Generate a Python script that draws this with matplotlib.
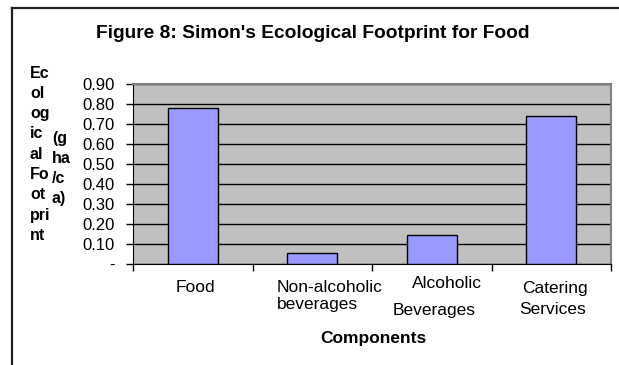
import matplotlib.pyplot as plt
from matplotlib.lines import Line2D

plt.rcParams['font.family'] = ['Liberation Sans', 'DejaVu Sans']

# data
components = ['Food', 'Non-alcoholic\nbeverages', 'Alcoholic\nBeverages', 'Catering\nServices']
footprint = [0.78, 0.055, 0.143, 0.74]
yticks = [0.0, 0.1, 0.2, 0.3, 0.4, 0.5, 0.6, 0.7, 0.8, 0.9]
ytick_labels = ['-', '0.10', '0.20', '0.30', '0.40', '0.50', '0.60', '0.70', '0.80', '0.90']
ylabel_main = ['Ec', 'ol', 'og', 'ic', 'al', 'Fo', 'ot', 'pri', 'nt']
ylabel_unit = ['(g', 'ha', '/c', 'a)']

W, H = 619, 365
fig = plt.figure(figsize=(W / 100, H / 100), dpi=100)

def fx(px):
    return px / W

def fy(py):
    return 1 - py / H

# frame around the chart area
fig.add_artist(Line2D([fx(12), 1.0], [fy(8), fy(8)], color='#202020', lw=1.6))
fig.add_artist(Line2D([fx(12), fx(12)], [fy(8), 0.0], color='#202020', lw=1.6))

ax = fig.add_axes([fx(133), fy(264), fx(611) - fx(133), fy(84) - fy(264)])
ax.set_facecolor('#C0C0C0')

x = list(range(len(components)))
ax.bar(x, footprint, width=0.42, color='#9999FF', edgecolor='black', linewidth=1.0, zorder=3)

ax.set_xlim(-0.5, len(components) - 0.5)
ax.set_ylim(0, 0.9)
ax.set_yticks(yticks)
ax.set_yticklabels(ytick_labels, fontsize=12)
ax.yaxis.grid(True, color='black', linewidth=1.0, zorder=1)
ax.set_axisbelow(True)

# category boundary ticks on the x axis
ax.set_xticks([i - 0.5 for i in range(len(components) + 1)])
ax.set_xticklabels([])
ax.tick_params(axis='x', direction='out', length=5, width=1, color='black')
ax.tick_params(axis='y', direction='out', length=5, width=1, color='black', pad=8)

for side in ['top', 'right']:
    ax.spines[side].set_color('#808080')
    ax.spines[side].set_linewidth(1.5)
ax.spines['left'].set_color('black')
ax.spines['bottom'].set_color('black')

# category labels, each line placed like the original worksheet layout
label_lines = [
    [(195, 288, 'Food', 'center')],
    [(277, 288, 'Non-alcoholic', 'left'), (277, 305, 'beverages', 'left')],
    [(447, 283, 'Alcoholic', 'center'), (434, 310, 'Beverages', 'center')],
    [(555, 288, 'Catering', 'center'), (553, 310, 'Services', 'center')],
]
for lines in label_lines:
    for px, py, txt, ha in lines:
        fig.text(fx(px), fy(py), txt, ha=ha, va='center', fontsize=12.5)

fig.text(fx(373), fy(338), 'Components', ha='center', va='center', fontsize=12.5, fontweight='bold')

# wrapped y-axis title
for i, s in enumerate(ylabel_main):
    fig.text(fx(30), fy(73 + i * 20.3), s, ha='left', va='center', fontsize=11.5, fontweight='bold')
for i, s in enumerate(ylabel_unit):
    fig.text(fx(52), fy(138 + i * 20.3), s, ha='left', va='center', fontsize=11.5, fontweight='bold')

fig.text(fx(313), fy(33), "Figure 8: Simon's Ecological Footprint for Food",
         ha='center', va='center', fontsize=13.8, fontweight='bold')

fig.savefig('out.png', dpi=100)
